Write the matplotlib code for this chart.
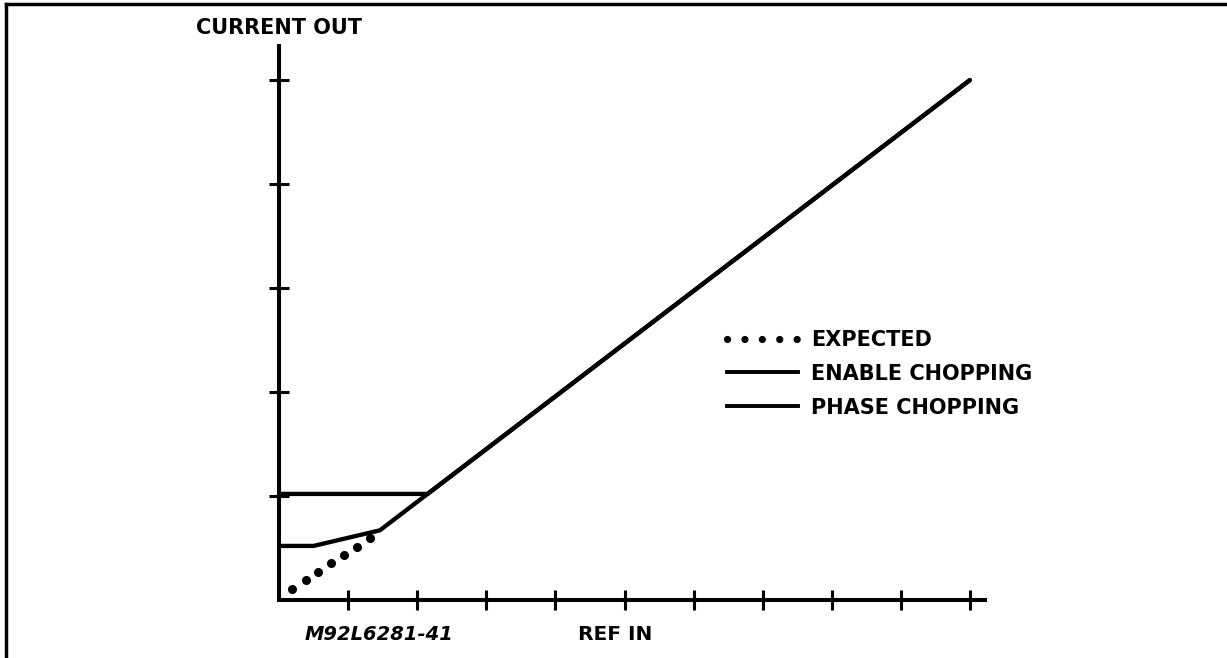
import matplotlib.pyplot as plt
from matplotlib.lines import Line2D

# ---- data (x in tick units, y in tick units) ----
x_ticks = [1, 2, 3, 4, 5, 6, 7, 8, 9, 10]
y_ticks = [1, 2, 3, 4, 5]

expected_x = [0.19, 0.39, 0.56, 0.75, 0.94, 1.13, 1.32]
expected_y = [0.11, 0.19, 0.27, 0.36, 0.43, 0.51, 0.60]

enable_x = [0.0, 0.5, 1.46, 10.0]
enable_y = [0.52, 0.52, 0.67, 5.0]

phase_x = [0.0, 2.15, 10.0]
phase_y = [1.02, 1.02, 5.0]

W, H = 1227, 658
fig = plt.figure(figsize=(W / 100, H / 100), dpi=100)

# axes box in pixels
x0, x1 = 279, 985
y0, y1 = 600, 46
ax = fig.add_axes([x0 / W, (H - y0) / H, (x1 - x0) / W, (y0 - y1) / H])
ax.set_xlim(0, (x1 - x0) / 69.1)
ax.set_ylim(0, (y0 - y1) / 104.0)

lw = 3.1
ax.plot(phase_x, phase_y, color="black", lw=lw, solid_capstyle="butt",
        solid_joinstyle="miter", label="PHASE CHOPPING", zorder=3)
ax.plot(enable_x, enable_y, color="black", lw=lw, solid_capstyle="round",
        solid_joinstyle="round", label="ENABLE CHOPPING", zorder=3)
ax.plot(expected_x, expected_y, linestyle="none", marker="o", markersize=5.5,
        color="black", zorder=3)

# spines
for s in ["top", "right"]:
    ax.spines[s].set_visible(False)
for s in ["left", "bottom"]:
    ax.spines[s].set_linewidth(2.9)
    ax.spines[s].set_capstyle("projecting")

ax.set_xticks(x_ticks)
ax.set_yticks(y_ticks)
ax.set_xticklabels([])
ax.set_yticklabels([])
ax.tick_params(axis="both", direction="inout", length=14.5, width=2.2, color="black")

font = dict(family="DejaVu Sans", fontweight="bold", fontsize=15, color="black")

fig.text(196 / W, 1 - 28 / H, "CURRENT OUT", ha="left", va="center", **font)
fig.text(578 / W, 1 - 635 / H, "REF IN", ha="left", va="center",
         family="DejaVu Sans", fontweight="bold", fontsize=14.5)
fig.text(305 / W, 1 - 635 / H, "M92L6281-41", ha="left", va="center",
         family="DejaVu Sans", fontweight="bold", fontstyle="italic", fontsize=14)

# legend
handles = [
    Line2D([], [], color="black", lw=5.2, linestyle=(0, (0.01, 2.4)), dash_capstyle="round"),
    Line2D([], [], color="black", lw=2.8),
    Line2D([], [], color="black", lw=2.8),
]
labels = ["EXPECTED", "ENABLE CHOPPING", "PHASE CHOPPING"]
leg = fig.legend(handles, labels, loc="upper left",
                 bbox_to_anchor=(727 / W, 1 - 330 / H), frameon=False,
                 prop=dict(family="DejaVu Sans", weight="bold", size=15),
                 handlelength=3.4, handletextpad=0.62, labelspacing=0.66,
                 borderpad=0, borderaxespad=0)

# outer frame (left and top only)
fig.add_artist(Line2D([6 / W, 6 / W], [0, 1 - 4 / H], color="black", lw=2.5,
                      transform=fig.transFigure))
fig.add_artist(Line2D([6 / W, 1], [1 - 4 / H, 1 - 4 / H], color="black", lw=2.5,
                      transform=fig.transFigure))

fig.savefig("out.png", dpi=100)
